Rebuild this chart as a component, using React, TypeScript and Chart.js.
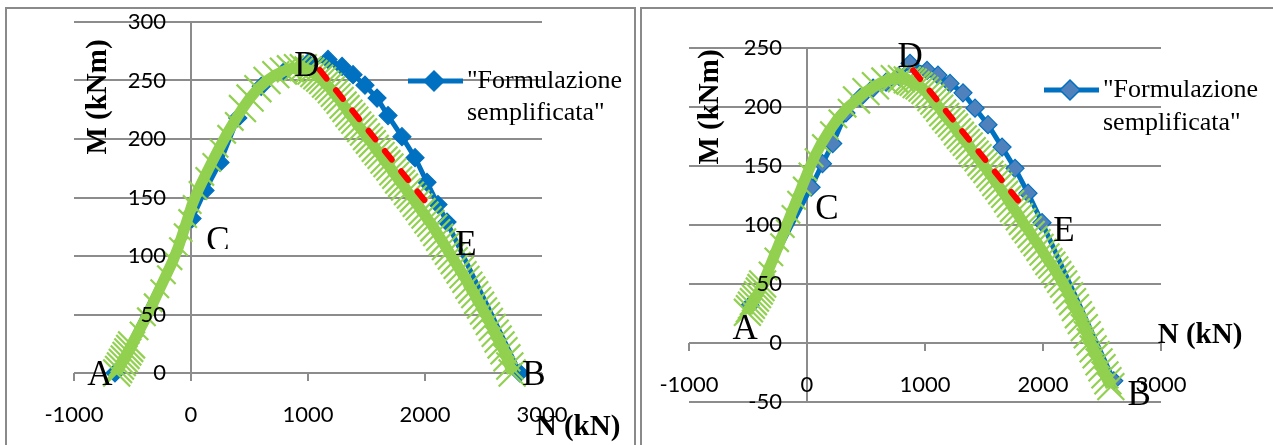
import React, { useEffect, useRef } from "react";
import { Chart, registerables } from "chart.js";

Chart.register(...registerables);

// ---------------- shared texts / ticks ----------------
const X_TICKS = [-1000, 0, 1000, 2000, 3000];
const Y_TICKS_LEFT = [0, 50, 100, 150, 200, 250, 300];
const Y_TICKS_RIGHT = [-50, 0, 50, 100, 150, 200, 250];
const LEGEND_LINES = ['"Formulazione', 'semplificata"'];
const X_TITLE = "N (kN)";
const Y_TITLE = "M (kNm)";
const POINT_NAMES = ["A", "B", "C", "D", "E"];

// ---------------- left chart data ----------------
const LEFT_BLUE_N = [-650, 9, 120, 248, 400, 600, 800, 1000, 1171, 1291, 1385, 1487, 1590, 1684, 1803, 1915, 2017, 2111, 2188, 2810];
const LEFT_BLUE_M = [0, 132, 156, 180, 218, 245, 258, 265, 268, 262, 255, 246, 235, 220, 202, 184, 163, 144, 129, 0];

const LEFT_GREEN_N = [
  -635, -619, -603, -587, -571, -555, -540, -524, -508, -444, -381, -323, -267, -210, -154, -107, -67, -28, 10, 60,
  118, 178, 240, 305, 370, 440, 505, 572, 650, 725, 790, 850, 910, 960,
  1000, 1025, 1050, 1075, 1100, 1125, 1150, 1175, 1200, 1225, 1250, 1275, 1300, 1325, 1350, 1375, 1400, 1425, 1450, 1475,
  1500, 1525, 1550, 1575, 1600, 1625, 1650, 1675, 1700, 1725, 1750, 1775, 1800, 1825, 1850, 1875, 1900, 1925, 1950, 1975,
  2000, 2025, 2050, 2075, 2100, 2125, 2150, 2175, 2200, 2225, 2250, 2275, 2300, 2325, 2350, 2375, 2400, 2425, 2450, 2475,
  2500, 2525, 2550, 2575, 2600, 2625, 2650, 2675, 2700, 2725, 2745,
];
const LEFT_GREEN_M = [
  0, 3, 6, 9, 12, 15, 18, 21, 24, 36, 48, 60, 72, 84, 96, 108, 120, 132, 144, 156,
  168, 180, 192, 204, 215, 226, 235, 243, 250, 255, 258, 260, 261, 261,
  259, 258, 256, 254, 252, 250, 247, 245, 242, 239, 236, 233, 229, 226, 222, 219, 216, 212, 209, 206,
  202, 199, 196, 192, 189, 186, 182, 179, 176, 172, 169, 165, 162, 159, 155, 152, 149, 145, 142, 138,
  135, 131, 128, 124, 120, 116, 112, 108, 104, 100, 96, 92, 88, 84, 80, 75, 71, 67, 62, 58,
  53, 49, 44, 39, 34, 29, 24, 19, 13, 6, 0,
];
const LEFT_RED_N = [1100, 2025];
const LEFT_RED_M = [259, 144];
const LEFT_LABEL_N = [-778, 2932, 231, 991, 2350];
const LEFT_LABEL_M = [-2, -2, 112, 262, 109];

// ---------------- right chart data ----------------
const RIGHT_BLUE_N = [-483, 35, 131, 218, 330, 450, 560, 670, 780, 873, 1017, 1110, 1212, 1322, 1424, 1534, 1653, 1763, 1873, 1992, 2600];
const RIGHT_BLUE_M = [32, 132, 152, 169, 195, 208, 216, 221, 226, 237, 231, 227, 220, 212, 199, 185, 166, 148, 127, 102, -32];

const RIGHT_GREEN_N = [
  -505, -488, -471, -454, -437, -420, -404, -390, -376, -330, -281, -232, -184, -136, -88, -40, 8, 60, 122, 190,
  262, 340, 420, 500, 580, 660, 740, 800,
  850, 875, 900, 925, 950, 975, 1000, 1025, 1050, 1075, 1100, 1125, 1150, 1175, 1200, 1225, 1250, 1275, 1300, 1325,
  1350, 1375, 1400, 1425, 1450, 1475, 1500, 1525, 1550, 1575, 1600, 1625, 1650, 1675, 1700, 1725, 1750, 1775, 1800, 1825,
  1850, 1875, 1900, 1925, 1950, 1975, 2000, 2025, 2050, 2075, 2100, 2125, 2150, 2175, 2200, 2225, 2250, 2275, 2300, 2325,
  2350, 2375, 2400, 2425, 2450, 2475, 2500, 2525, 2550, 2575,
];
const RIGHT_GREEN_M = [
  26, 29, 32, 35, 38, 41, 44, 47, 50, 61, 73, 85, 97, 109, 121, 133, 145, 157, 169, 180,
  190, 199, 206, 213, 218, 222, 224, 224,
  223, 222, 221, 219, 218, 216, 214, 211, 208, 205, 202, 199, 195, 192, 189, 186, 183, 179, 176, 173,
  170, 167, 163, 160, 157, 153, 150, 147, 143, 140, 136, 133, 129, 126, 122, 118, 114, 111, 107, 103,
  99, 96, 92, 88, 85, 81, 77, 73, 69, 66, 62, 58, 54, 50, 45, 40, 35, 30, 24, 19,
  13, 7, 1, -5, -10, -16, -21, -27, -32, -37,
];
const RIGHT_RED_N = [900, 1860];
const RIGHT_RED_M = [231, 112];
const RIGHT_LABEL_N = [-525, 2814, 169, 873, 2178];
const RIGHT_LABEL_M = [11, -45, 113, 242, 94];

// ---------------- styles ----------------
const GRID = "#8c8c8c";
const BLUE = "#0070C0";
const GREEN = "#92D050";
const RED = "#FF0000";

const zip = (xs: number[], ys: number[]) => xs.map((x, i) => ({ x, y: ys[i] }));

const decor = {
  id: "decor",
  beforeDatasetsDraw(chart: any) {
    const ctx = chart.ctx;
    const xs = chart.scales.x;
    const ys = chart.scales.y;
    const y0 = Math.round(ys.getPixelForValue(0));
    ctx.save();
    ctx.strokeStyle = GRID;
    ctx.lineWidth = 2;
    X_TICKS.forEach((t) => {
      const x = Math.round(xs.getPixelForValue(t));
      ctx.beginPath();
      ctx.moveTo(x, y0);
      ctx.lineTo(x, y0 + 8);
      ctx.stroke();
    });
    ctx.restore();
  },
  afterDatasetsDraw(chart: any, _a: any, o: any) {
    const ctx = chart.ctx;
    const xs = chart.scales.x;
    const ys = chart.scales.y;
    const x0 = xs.getPixelForValue(0);
    const y0 = ys.getPixelForValue(0);
    ctx.save();
    ctx.fillStyle = "#000";
    ctx.font = "22px Lato";
    ctx.textBaseline = "middle";
    ctx.textAlign = "center";
    X_TICKS.forEach((t) => ctx.fillText(String(t), xs.getPixelForValue(t), y0 + 42));
    ctx.textAlign = "right";
    o.yTicks.forEach((t: number) => ctx.fillText(String(t), x0 - 25, ys.getPixelForValue(t)));

    // point names
    ctx.font = '35px "Liberation Serif"';
    ctx.textAlign = "center";
    POINT_NAMES.forEach((n, i) => {
      const px = xs.getPixelForValue(o.labelN[i]);
      const py = ys.getPixelForValue(o.labelM[i]);
      ctx.save();
      if (o.clipName === n) {
        ctx.beginPath();
        ctx.rect(0, 0, chart.width, o.clipY);
        ctx.clip();
      }
      ctx.fillText(n, px, py);
      ctx.restore();
    });

    // axis titles
    ctx.font = 'bold 29px "Liberation Serif"';
    ctx.fillText(X_TITLE, o.xTitle[0], o.xTitle[1]);
    ctx.save();
    ctx.translate(o.yTitle[0], o.yTitle[1]);
    ctx.rotate(-Math.PI / 2);
    ctx.fillText(Y_TITLE, 0, 0);
    ctx.restore();

    // legend
    const L = o.legend;
    ctx.strokeStyle = BLUE;
    ctx.lineWidth = 5;
    ctx.beginPath();
    ctx.moveTo(L.x1, L.y);
    ctx.lineTo(L.x2, L.y);
    ctx.stroke();
    ctx.beginPath();
    ctx.moveTo(L.cx, L.y - 10);
    ctx.lineTo(L.cx + 10, L.y);
    ctx.lineTo(L.cx, L.y + 10);
    ctx.lineTo(L.cx - 10, L.y);
    ctx.closePath();
    ctx.fillStyle = o.markerFill;
    ctx.fill();
    ctx.lineWidth = 1.5;
    ctx.strokeStyle = BLUE;
    ctx.stroke();
    ctx.fillStyle = "#000";
    ctx.font = '26px "Liberation Serif"';
    ctx.textAlign = "left";
    LEGEND_LINES.forEach((s, i) => ctx.fillText(s, L.tx, L.ty[i]));
    ctx.restore();
  },
};

function buildConfig(spec: any): any {
  const [s0, s1] = spec.sparse;
  return {
    type: "scatter",
    data: {
      datasets: [
        {
          label: "red",
          data: zip(spec.redN, spec.redM),
          showLine: true,
          borderColor: RED,
          borderWidth: 6,
          borderDash: [11, 15],
          borderCapStyle: "round",
          pointRadius: 0,
          order: 0,
          clip: false,
        },
        {
          label: "green",
          data: zip(spec.greenN, spec.greenM),
          showLine: true,
          borderColor: GREEN,
          borderWidth: 11,
          borderJoinStyle: "round",
          pointStyle: "crossRot",
          pointRadius: (c: any) => (c.dataIndex >= s0 && c.dataIndex <= s1 ? 13 : 19),
          pointBorderWidth: 2.2,
          pointBorderColor: GREEN,
          pointBackgroundColor: GREEN,
          order: 1,
          clip: false,
        },
        {
          label: "Formulazione semplificata",
          data: zip(spec.blueN, spec.blueM),
          showLine: true,
          borderColor: BLUE,
          borderWidth: 5,
          pointStyle: "rectRot",
          pointRadius: 9,
          pointBackgroundColor: spec.markerFill,
          pointBorderColor: BLUE,
          pointBorderWidth: 1.2,
          order: 2,
          clip: false,
        },
      ],
    },
    options: {
      animation: false,
      responsive: false,
      devicePixelRatio: 1,
      events: [],
      layout: { padding: spec.padding },
      plugins: {
        legend: { display: false },
        tooltip: { enabled: false },
        decor: spec.decor,
      },
      scales: {
        x: {
          type: "linear",
          min: -1000,
          max: 3000,
          ticks: { display: false, stepSize: 1000 },
          grid: {
            color: (c: any) => (c.tick && c.tick.value === 0 ? GRID : "rgba(0,0,0,0)"),
            lineWidth: 2,
            drawTicks: false,
          },
          border: { display: false },
        },
        y: {
          min: spec.yMin,
          max: spec.yMax,
          ticks: { display: false, stepSize: 50 },
          grid: { color: GRID, lineWidth: 2, drawTicks: false },
          border: { display: false },
        },
      },
    },
    plugins: [decor],
  };
}

const LEFT_SPEC = {
  blueN: LEFT_BLUE_N,
  blueM: LEFT_BLUE_M,
  greenN: LEFT_GREEN_N,
  greenM: LEFT_GREEN_M,
  redN: LEFT_RED_N,
  redM: LEFT_RED_M,
  sparse: [9, 24],
  yMin: 0,
  yMax: 300,
  markerFill: BLUE,
  padding: { left: 74, top: 22, right: 96, bottom: 72 },
  decor: {
    yTicks: Y_TICKS_LEFT,
    labelN: LEFT_LABEL_N,
    labelM: LEFT_LABEL_M,
    clipName: "C",
    clipY: 249,
    xTitle: [578, 428],
    yTitle: [99, 97],
    legend: { x1: 408, x2: 463, y: 81, cx: 434, tx: 467, ty: [81, 113] },
    markerFill: BLUE,
  },
};

const RIGHT_SPEC = {
  blueN: RIGHT_BLUE_N,
  blueM: RIGHT_BLUE_M,
  greenN: RIGHT_GREEN_N,
  greenM: RIGHT_GREEN_M,
  redN: RIGHT_RED_N,
  redM: RIGHT_RED_M,
  sparse: [9, 21],
  yMin: -50,
  yMax: 250,
  markerFill: "#4F81BD",
  padding: { left: 51, top: 48, right: 112, bottom: 43 },
  decor: {
    yTicks: Y_TICKS_RIGHT,
    labelN: RIGHT_LABEL_N,
    labelM: RIGHT_LABEL_M,
    clipName: "",
    clipY: 0,
    xTitle: [562, 336],
    yTitle: [73, 107],
    legend: { x1: 406, x2: 461, y: 90, cx: 432, tx: 465, ty: [90, 123] },
    markerFill: "#4F81BD",
  },
};

function MNChart({ left, width, spec }: { left: number; width: number; spec: any }) {
  const ref = useRef<HTMLCanvasElement | null>(null);
  useEffect(() => {
    if (!ref.current) return;
    const chart = new Chart(ref.current, buildConfig(spec));
    return () => chart.destroy();
  }, [spec]);
  return (
    <canvas
      ref={ref}
      width={width}
      height={445}
      style={{ position: "absolute", left, top: 0, width, height: 445, display: "block" }}
    />
  );
}

export default function App() {
  return (
    <div
      style={{
        position: "absolute",
        left: 0,
        top: 0,
        width: 1273,
        height: 445,
        overflow: "hidden",
        background: "#fff",
      }}
    >
      <div
        style={{
          position: "absolute",
          left: 5,
          top: 7,
          width: 627,
          height: 460,
          border: "2px solid #8a8a8a",
        }}
      />
      <div
        style={{
          position: "absolute",
          left: 640,
          top: 7,
          width: 660,
          height: 460,
          border: "2px solid #8a8a8a",
        }}
      />
      <MNChart left={0} width={638} spec={LEFT_SPEC} />
      <MNChart left={638} width={635} spec={RIGHT_SPEC} />
    </div>
  );
}
